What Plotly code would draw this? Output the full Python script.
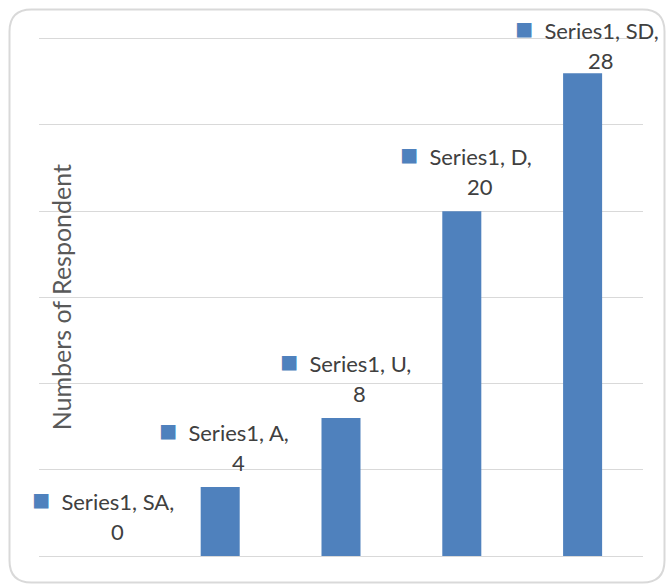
import plotly.graph_objects as go

# Survey responses per answer category
categories = ["SA", "A", "U", "D", "SD"]
respondents = [0, 4, 8, 20, 28]
series_name = "Series1"
axis_title = "Numbers of Respondent"

BAR_BLUE = "#4F81BD"
TEXT_GREY = "#404040"
TITLE_GREY = "#595959"
GRID_GREY = "#D9D9D9"
FONT = "Lato"

W, H = 667, 585
MARGIN = dict(l=39, r=24, t=37, b=29)
Y_MAX = 30
Y_TOP = 30.1  # a little headroom so the top gridline is drawn
PLOT_W = W - MARGIN["l"] - MARGIN["r"]
PLOT_H = H - MARGIN["t"] - MARGIN["b"]
PX_PER_UNIT = PLOT_H / Y_TOP

fig = go.Figure(
    go.Bar(
        x=categories,
        y=respondents,
        width=0.323,
        marker=dict(color=BAR_BLUE, line=dict(width=0)),
        hoverinfo="skip",
        showlegend=False,
    )
)

# Data callouts: "■ Series1, CAT," on one line, the value centred below
LINE1_UP, LINE2_UP = 58, 25
annotations = []
for cat, val in zip(categories, respondents):
    top_px = MARGIN["t"] + (Y_TOP - val) * PX_PER_UNIT
    push = max(0.0, 30 - (top_px - 55))  # keep callout inside the frame
    annotations.append(dict(
        x=cat, y=val, xref="x", yref="y",
        text=(f"<span style='color:{BAR_BLUE};font-size:30px'>■</span>"
              f"&nbsp;&nbsp;{series_name}, {cat},"),
        showarrow=False, xanchor="center", yanchor="middle",
        xshift=4, yshift=LINE1_UP - push,
        font=dict(family=FONT, size=22, color=TEXT_GREY),
    ))
    annotations.append(dict(
        x=cat, y=val, xref="x", yref="y",
        text=str(val),
        showarrow=False, xanchor="center", yanchor="middle",
        xshift=18, yshift=LINE2_UP - push,
        font=dict(family=FONT, size=22, color=TEXT_GREY),
    ))

annotations.append(dict(
    x=(61 - MARGIN["l"]) / PLOT_W, y=0.5 * Y_MAX / Y_TOP,
    xref="paper", yref="paper",
    text=axis_title, textangle=-90, showarrow=False,
    xanchor="center", yanchor="middle",
    font=dict(family=FONT, size=25, color=TITLE_GREY),
))


# Rounded outer frame, expressed in paper coordinates
def px(xp):
    return (xp - MARGIN["l"]) / PLOT_W


def py(yp):
    return (H - MARGIN["b"] - yp) / PLOT_H


L, R, T, B, RAD = 9.5, 664.5, 9.5, 582.5, 22
pts = [
    ("M", (L + RAD, T)), ("L", (R - RAD, T)), ("Q", (R, T), (R, T + RAD)),
    ("L", (R, B - RAD)), ("Q", (R, B), (R - RAD, B)),
    ("L", (L + RAD, B)), ("Q", (L, B), (L, B - RAD)),
    ("L", (L, T + RAD)), ("Q", (L, T), (L + RAD, T)),
]
path = ""
for cmd, *coords in pts:
    path += cmd + " ".join(f"{px(a):.5f},{py(b):.5f}" for a, b in coords) + " "
path += "Z"

fig.update_layout(
    width=W, height=H,
    margin=MARGIN,
    paper_bgcolor="white",
    plot_bgcolor="white",
    bargap=0.677,
    annotations=annotations,
    shapes=[dict(type="path", xref="paper", yref="paper", path=path,
                 line=dict(color=GRID_GREY, width=2), layer="below")],
    xaxis=dict(range=[-0.5, len(categories) - 0.5], showticklabels=False,
               showgrid=False, zeroline=False, showline=False, ticks="",
               fixedrange=True),
    yaxis=dict(range=[0, Y_TOP], tick0=0, dtick=5, showticklabels=False,
               showgrid=True, gridcolor=GRID_GREY, gridwidth=1,
               zeroline=True, zerolinecolor=GRID_GREY, zerolinewidth=1,
               showline=False, ticks="", fixedrange=True),
    font=dict(family=FONT, color=TEXT_GREY),
)

fig.write_html("out.html", config={"displayModeBar": False})
